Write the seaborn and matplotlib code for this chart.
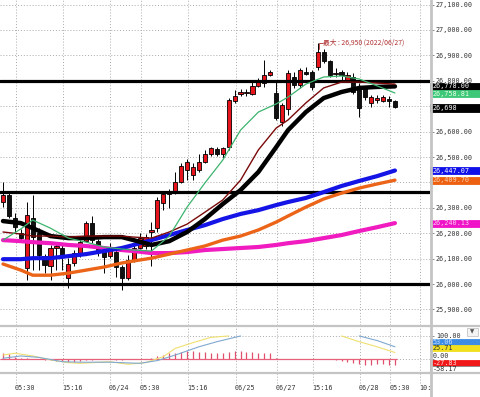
import matplotlib
matplotlib.use("Agg")
import matplotlib.pyplot as plt
import matplotlib.transforms as mtransforms
from matplotlib.patches import Rectangle
from matplotlib.lines import Line2D
import numpy as np
import pandas as pd
import seaborn as sns

# candles (index 0..66)
opens = [26323, 26350, 26261, 26201, 26063, 26260, 26201, 26110, 26071, 26142,
         26142, 26024, 26083, 26114, 26170, 26241, 26170, 26138, 26110, 26127,
         26068, 26024, 26092, 26142, 26150, 26205, 26220, 26320, 26355, 26363,
         26403, 26449, 26429, 26449, 26481, 26512, 26531, 26512, 26540, 26720,
         26750, 26752, 26750, 26781, 26793, 26823, 26753, 26639, 26690, 26815,
         26783, 26834, 26836, 26856, 26915, 26876, 26828, 26836, 26803, 26816,
         26777, 26772, 26711, 26724, 26722, 26728, 26722]
closes = [26350, 26269, 26224, 26181, 26272, 26185, 26114, 26075, 26142, 26150,
          26106, 26079, 26122, 26166, 26240, 26173, 26130, 26105, 26138, 26068,
          26022, 26094, 26142, 26181, 26185, 26213, 26331, 26353, 26363, 26403,
          26465, 26481, 26462, 26481, 26511, 26534, 26512, 26534, 26724, 26740,
          26755, 26756, 26780, 26794, 26823, 26836, 26652, 26705, 26830, 26783,
          26843, 26828, 26777, 26915, 26876, 26823, 26830, 26823, 26823, 26757,
          26692, 26737, 26737, 26732, 26737, 26722, 26698]
highs = [26402, 26358, 26280, 26217, 26324, 26350, 26220, 26118, 26154, 26157,
         26154, 26102, 26134, 26181, 26248, 26268, 26177, 26142, 26161, 26134,
         26075, 26114, 26161, 26201, 26197, 26245, 26343, 26363, 26374, 26442,
         26478, 26492, 26476, 26512, 26527, 26540, 26540, 26540, 26732, 26764,
         26768, 26768, 26797, 26811, 26882, 26843, 26797, 26712, 26843, 26835,
         26850, 26854, 26843, 26950, 26927, 26880, 26850, 26843, 26835, 26830,
         26790, 26780, 26745, 26744, 26744, 26740, 26726]
lows = [26303, 26260, 26205, 26165, 26016, 26055, 26055, 26043, 26016, 26055,
        26055, 25984, 26071, 26106, 26165, 26161, 26110, 26043, 26102, 26027,
        25976, 26016, 26087, 26138, 26138, 26070, 26205, 26291, 26299, 26355,
        26398, 26409, 26409, 26442, 26476, 26505, 26505, 26496, 26527, 26712,
        26740, 26740, 26744, 26776, 26776, 26818, 26646, 26622, 26665, 26772,
        26772, 26823, 26764, 26843, 26870, 26815, 26815, 26803, 26798, 26750,
        26659, 26724, 26697, 26712, 26716, 26697, 26693]

# moving averages read at sample candles
ma_x = [0, 3, 5, 8, 11, 14, 17, 20, 22, 25, 28, 31, 34, 37, 40, 43, 46, 48, 51, 54, 57, 60, 63, 66]
ma_green = [26173, 26217, 26252, 26220, 26181, 26165, 26146, 26138, 26134, 26130, 26189, 26303,
            26398, 26488, 26606, 26677, 26709, 26736, 26787, 26815, 26819, 26807, 26780, 26752]
ma_darkred = [26205, 26197, 26189, 26189, 26185, 26189, 26189, 26189, 26185, 26181, 26205, 26236,
              26283, 26331, 26409, 26528, 26614, 26646, 26713, 26772, 26795, 26795, 26791, 26787]
ma_black = [26248, 26240, 26220, 26189, 26181, 26181, 26185, 26185, 26173, 26154, 26169, 26205,
            26256, 26315, 26370, 26441, 26539, 26606, 26677, 26732, 26756, 26772, 26776, 26778]
ma_blue = [26098, 26098, 26102, 26102, 26110, 26118, 26130, 26142, 26154, 26173, 26193, 26213,
           26232, 26256, 26276, 26291, 26311, 26323, 26339, 26362, 26386, 26406, 26425, 26447]
ma_orange = [26079, 26055, 26035, 26035, 26043, 26055, 26067, 26083, 26091, 26102, 26118, 26134,
             26150, 26173, 26189, 26213, 26244, 26268, 26303, 26335, 26358, 26378, 26394, 26409]
ma_magenta = [26173, 26169, 26165, 26161, 26154, 26150, 26142, 26134, 26130, 26122, 26122, 26126,
              26134, 26138, 26142, 26146, 26154, 26161, 26169, 26181, 26193, 26209, 26224, 26240]

h_lines = [26800, 26363, 26000]

# oscillator panel (parts above 100 are off the panel)
osc_blue_x = [0, 3, 6, 10, 13, 18, 23, 26, 29, 33, 36, 40, 60, 63, 66]
osc_blue = [3, 13, 7, -12, -14, -14, -19, -7, 17, 53, 75, 100, 100, 80, 53]
osc_blue_seg = [0] * 12 + [1] * 3
osc_yellow_x = [0, 2, 5, 8, 11, 13, 18, 21, 24, 27, 29, 32, 35, 38, 57, 60, 63, 66]
osc_yellow = [17, 25, 13, -4, -16, -19, -12, -23, -16, 10, 46, 71, 94, 100, 100, 75, 53, 28]
osc_yellow_seg = [0] * 14 + [1] * 4
hist = [25, 20, 8, 5, 3, 2, 0, -3, -6, -8,
        -10, -12, -12, -10, -6, -3, -1, 0, -2, -3,
        -3, -2, 0, -1, 2, 6, 12, 18, 24, 28,
        32, 36, 34, 32, 32, 28, 26, 26, 30, 36,
        34, 32, 30, 28, 26, 24, 3, 1, 0, 0,
        1, 0, -1, -1, -2, -2, -3, -8, -12, -17,
        -20, -25, -25, -23, -23, -25, -27]

tick_labels = ["05:30", "15:16", "06/24", "05:30", "15:16", "06/25", "06/27", "15:16", "06/28", "05:30", "10:30"]
tick_pos = [2.19, 10.1, 18.0, 23.2, 31.1, 39.2, 46.1, 52.2, 60.1, 65.2, 70.2]

price_ticks = list(range(25900, 27101, 100))
hidden_ticks = [26400, 26700]  # covered by the value tags

sns.set_theme(style="white")
plt.rcParams["font.family"] = ["DejaVu Sans Mono", "Noto Sans CJK JP"]

W, H = 480, 397
fig = plt.figure(figsize=(W / 100, H / 100), dpi=100)
fig.patch.set_facecolor("white")


def px_rect(x0, y0, x1, y1):
    return [x0 / W, 1 - y1 / H, (x1 - x0) / W, (y1 - y0) / H]


xlim = (-0.505, 71.9)
grid_kw = dict(color="#aaaaaa", linestyle=(0, (1, 2)), linewidth=0.7)
tick_color = "#333333"
fs = 4.9

# ---- main price panel ----
ax = fig.add_axes(px_rect(0, 0, 430, 325))
idx = np.arange(len(opens))
o, c = np.array(opens), np.array(closes)
up = c >= o
ax.vlines(idx, lows, highs, color="black", lw=0.7, zorder=2)
body = np.maximum(np.abs(c - o), 1.5)
ax.bar(idx, body, bottom=np.minimum(o, c), width=0.7,
       color=np.where(up, "#e8141c", "#111111"), edgecolor="black", linewidth=0.6, zorder=3)

for yv in h_lines:
    ax.axhline(yv, color="black", lw=2.3, zorder=4)

ma_df = pd.DataFrame({"x": ma_x, "green": ma_green, "darkred": ma_darkred, "black": ma_black,
                      "blue": ma_blue, "orange": ma_orange, "magenta": ma_magenta})
styles = [("magenta", "#f01cc0", 3.0), ("orange", "#ec6418", 2.4), ("blue", "#1414e6", 3.0),
          ("black", "#000000", 3.2), ("darkred", "#7a0a0a", 1.0), ("green", "#3cb46e", 0.9)]
for col, colr, lw in styles:
    sns.lineplot(data=ma_df, x="x", y=col, color=colr, lw=lw, ax=ax, legend=False, zorder=5)

ax.set_xlim(*xlim)
ax.set_ylim(25839, 27118)
ax.set_xlabel("")
ax.set_ylabel("")
ax.set_xticks(tick_pos)
ax.set_yticks(price_ticks)
ax.set_yticklabels(["" if v in hidden_ticks else f"{v:,.2f}" for v in price_ticks])
ax.yaxis.tick_right()
ax.tick_params(axis="x", length=0, labelbottom=False)
ax.tick_params(axis="y", length=3, width=0.6, color="#777777", pad=1.2,
               labelsize=fs, labelcolor=tick_color)
ax.grid(True, **grid_kw)
for s in ax.spines.values():
    s.set_visible(False)

# high annotation
imax = int(np.argmax(highs))
hmax = highs[imax]
ax.plot([imax + 0.25, imax + 0.25, imax + 0.8], [hmax - 25, hmax, hmax], color="#b03030", lw=0.6, zorder=6)
ax.text(imax + 0.95, hmax, f"最大 : {hmax:,} (2022/06/27)", color="#b03030", fontsize=4.9,
        va="center", ha="left", family=["Noto Sans CJK JP", "DejaVu Sans"], zorder=6)


def tag(a, value, text, face, fg, h, edge=None):
    tr = mtransforms.blended_transform_factory(a.transAxes, a.transData)
    a.add_patch(Rectangle((1.0, value - h / 2), 50 / 430, h, transform=tr, facecolor=face,
                          edgecolor=edge if edge else face, lw=0.6, clip_on=False, zorder=10))
    a.text(1.0 + 3 / 430, value, text, transform=tr, color=fg, fontsize=fs, va="center",
           ha="left", clip_on=False, zorder=11)


tag(ax, ma_black[-1], f"{ma_black[-1]:,.2f}", "#000000", "white", 28)
tag(ax, ma_green[-1] - 3, "26,758.81", "#3cc878", "#e8ffe8", 26)
tag(ax, closes[-1] - 5, f"{closes[-1]:,}", "#000000", "white", 30)
tag(ax, ma_blue[-1], "26,447.07", "#1010e8", "white", 28)
tag(ax, ma_orange[-1], "26,409.70", "#ec6010", "#ffd0b0", 28)
tag(ax, ma_magenta[-1], "26,240.13", "#f014c8", "#ffd0f0", 28)

# ---- oscillator panel ----
ax2 = fig.add_axes(px_rect(0, 327, 430, 373))
ax2.vlines(idx, 0, hist, color="#e0506e", lw=0.9, zorder=3)
ax2.hlines(0, idx[0] - 0.5, idx[-1] + 0.3, color="#e8607a", lw=0.9, zorder=3)
blue_df = pd.DataFrame({"x": osc_blue_x, "y": osc_blue, "seg": osc_blue_seg})
yel_df = pd.DataFrame({"x": osc_yellow_x, "y": osc_yellow, "seg": osc_yellow_seg})
sns.lineplot(data=yel_df, x="x", y="y", units="seg", estimator=None, color="#f0e070", lw=0.8,
             ax=ax2, legend=False, zorder=4)
sns.lineplot(data=blue_df, x="x", y="y", units="seg", estimator=None, color="#80a8d0", lw=0.8,
             ax=ax2, legend=False, zorder=4)
ax2.set_xlim(*xlim)
ax2.set_ylim(-61, 139)
ax2.set_xlabel("")
ax2.set_ylabel("")
ax2.set_xticks(tick_pos)
ax2.set_yticks([0, 100])
ax2.set_yticklabels(["", "100.00"])
ax2.yaxis.tick_right()
ax2.tick_params(axis="x", length=0, labelbottom=False)
ax2.tick_params(axis="y", length=3, width=0.6, color="#777777", pad=1.2,
                labelsize=fs, labelcolor=tick_color)
ax2.grid(True, **grid_kw)
for s in ax2.spines.values():
    s.set_visible(False)

tr2 = mtransforms.blended_transform_factory(ax2.transAxes, ax2.transData)
ax2.text(1.0 + 3 / 430, 13, "0.00", transform=tr2, color=tick_color, fontsize=fs,
         va="center", ha="left", clip_on=False)
tag(ax2, 74, "53.06", "#3c8ce6", "#c8e0ff", 26)
tag(ax2, 48, "25.71", "#f0e020", "#333333", 24)
tag(ax2, -18, "-27.83", "#f01818", "#ffd8d8", 24)
tag(ax2, -44, "-58.17", "white", "#333333", 26, edge="#888888")

# ---- time label strip ----
ax3 = fig.add_axes(px_rect(0, 373, 430, 397))
ax3.set_xlim(*xlim)
ax3.set_ylim(0, 1)
ax3.axis("off")
ax3.vlines(tick_pos, 0.6, 1.0, **grid_kw)
for p, lab in zip(tick_pos, tick_labels):
    ax3.text(p - 0.15, 0.36, lab, fontsize=fs, color=tick_color, ha="left", va="center", clip_on=True)

# frame lines
for yy in (326, 373):
    fig.add_artist(Line2D([0, 1], [1 - yy / H, 1 - yy / H], color="#c4c4c4", lw=1.6))
fig.add_artist(Line2D([430.5 / W, 430.5 / W], [0, 1], color="#c4c4c4", lw=2.0))

# small menu button
fig.add_artist(Rectangle((467 / W, 1 - 336 / H), 11 / W, 8 / H, facecolor="#f4f4f4",
                         edgecolor="#bbbbbb", lw=0.5))
fig.text(472.5 / W, 1 - 332 / H, "▼", fontsize=4, color="#555555", ha="center", va="center",
         family=["DejaVu Sans"])

fig.savefig("out.png", dpi=100)
